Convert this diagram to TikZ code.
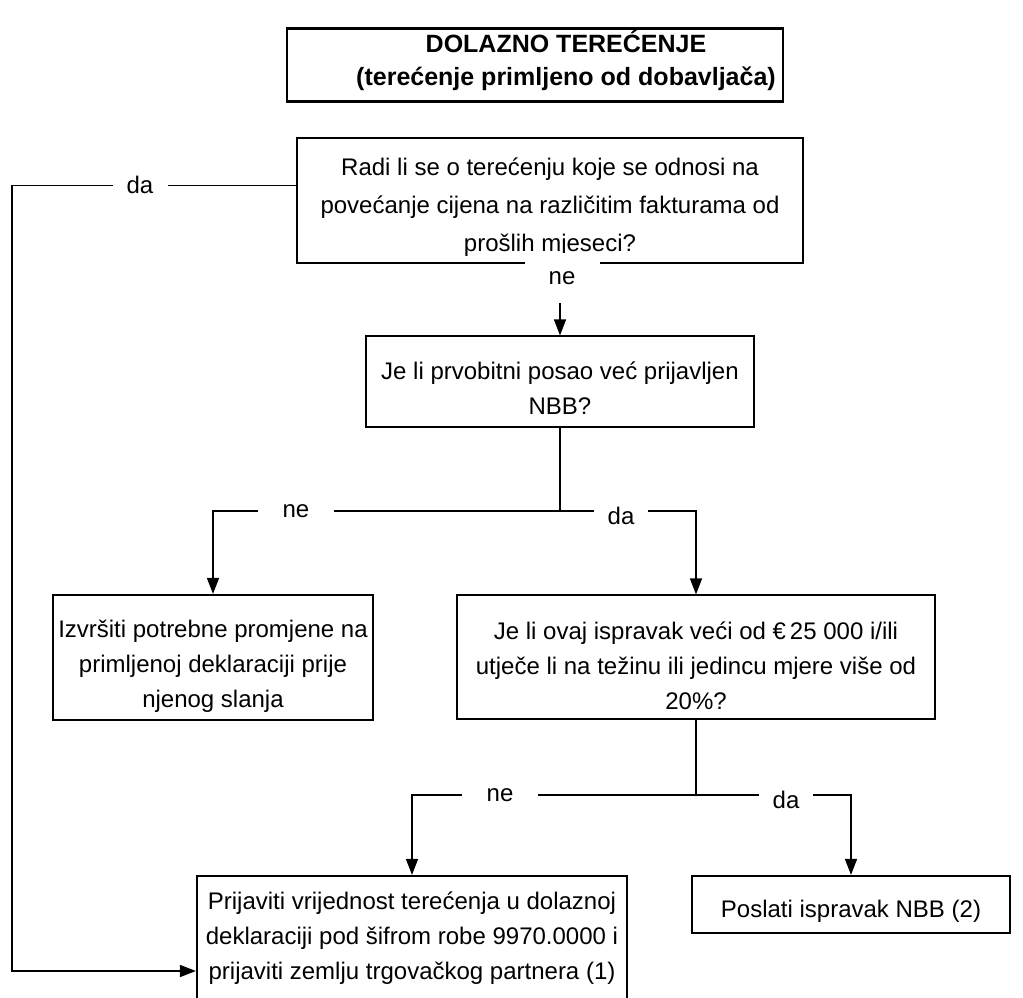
\documentclass[tikz,border=0pt]{standalone}
\usepackage{fontspec}
\setmainfont{Liberation Sans}
\usetikzlibrary{arrows.meta, positioning}
\newcommand\tp[1]{\rule{0pt}{#1pt}}
\newcommand\zl[1]{\raisebox{-3.5pt}[0pt][0pt]{\hspace*{62pt}#1}}

\begin{document}
\begin{tikzpicture}[x=1pt, y=-1pt]
        \tikzset{ qa/.style ={draw=black, line width=1.2pt, align=center, inner sep=0pt, text=black, fill=white, font=\fontsize{24}{35}\selectfont } }
        \tikzset{ qb/.style ={qa, line width=2.2pt } }
        \tikzset{ lh/.style ={fill=white, inner sep=0pt, minimum height=36pt, text=black, font=\fontsize{24}{29}\selectfont } }

        \tikzstyle{lnk}=[-{Triangle[length=16pt,width=12pt]}, line width=1.5pt]
        \tikzstyle{wire}=[line width=1.5pt]

        \clip (0,0) rectangle (1023,997);
        \fill[white] (0,0) rectangle (1023,997);

        \node[qb, minimum width=496pt, minimum height=73pt, font=\fontsize{25}{33}\selectfont\bfseries] (hdr) at (535,65) {\zl{DOLAZNO TEREĆENJE}\\\zl{(terećenje primljeno od dobavljača)}};

        \node[qa, minimum width=506pt, minimum height=125pt, font=\fontsize{24}{38}\selectfont] (q0) at (550,200.5) {\tp{30}Radi li se o terećenju koje se odnosi na\\povećanje cijena na različitim fakturama od\\prošlih mjeseci?};
        \node[qa, minimum width=388pt, minimum height=91pt] (q1) at (560,381.5) {\tp{31}Je li prvobitni posao već prijavljen\\NBB?};

        \node[qb, minimum width=320pt, minimum height=125pt] (a0) at (213,657.5) {\tp{35}Izvršiti potrebne promjene na\\primljenoj deklaraciji prije\\njenog slanja};
        \node[qa, minimum width=478pt, minimum height=124pt] (q2) at (696,657) {\tp{35}Je li ovaj ispravak veći od €\,25 000 i/ili\\utječe li na težinu ili jedincu mjere više od\\20\%?};

        \node[qb, minimum width=430pt, minimum height=124pt] (a1) at (412,938) {Prijaviti vrijednost terećenja u dolaznoj\\deklaraciji pod šifrom robe 9970.0000 i\\prijaviti zemlju trgovačkog partnera (1)};
        \node[qb, minimum width=318pt, minimum height=57pt] (a2) at (851,904.5) {\tp{30}Poslati ispravak NBB (2)};

        \coordinate (j0) at (560,511);
        \coordinate (j1) at (696,795);
        \coordinate (c0) at (12,971);

        \draw[lnk] (q1.north |- q0.south) -- (q1.north);
        \draw[wire] (q1.south) -- (j0);
        \draw[lnk] (j0) -| (a0.north);
        \draw[lnk] (j0) -| (q2.north);
        \draw[wire] (q2.south) -- (j1);
        \draw[lnk] (j1) -| (a1.north);
        \draw[lnk] (j1) -| (a2.north);
        \draw[lnk] ([yshift=15pt]q0.west) -| (c0) -- (c0 -| a1.west);

        \node[lh, minimum width=55pt] (l0) at (140,185) {da};
        \node[lh, minimum width=75pt, minimum height=50pt] (l1) at (562,278) {ne};
        \node[lh, minimum width=76pt] (l2) at (296,511) {ne};
        \node[lh, minimum width=54pt] (l3) at (621,516) {da};
        \node[lh, minimum width=76pt] (l4) at (500,795) {ne};
        \node[lh, minimum width=54pt] (l5) at (786,800) {da};
\end{tikzpicture}
\end{document}
